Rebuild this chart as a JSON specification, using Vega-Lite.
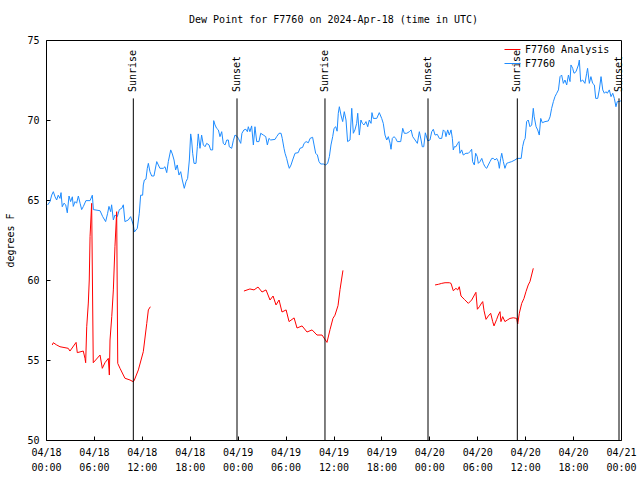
{
  "$schema": "https://vega.github.io/schema/vega-lite/v6.json",
  "width": 575,
  "height": 400,
  "autosize": "none",
  "padding": {"left": 46, "top": 40, "right": 19, "bottom": 40},
  "background": "white",
  "title": {"text": "Dew Point for F7760 on 2024-Apr-18 (time in UTC)", "font": "DejaVu Sans Mono", "fontSize": 10, "fontWeight": "normal", "color": "black", "anchor": "middle", "offset": 10},
  "config": {
    "view": {"stroke": "black", "strokeWidth": 1},
    "font": "DejaVu Sans Mono",
    "axis": {"labelFont": "DejaVu Sans Mono", "labelFontSize": 10, "labelColor": "black", "titleFont": "DejaVu Sans Mono", "titleFontSize": 10, "titleFontWeight": "normal", "titleColor": "black", "tickColor": "black", "grid": false, "domain": false}
  },
  "datasets": {
    "obs": [
      {"series":"F7760","seg":0,"t":"2024-04-18T00:12:00Z","v":64.69},
      {"series":"F7760","seg":0,"t":"2024-04-18T00:30:00Z","v":64.9},
      {"series":"F7760","seg":0,"t":"2024-04-18T00:43:00Z","v":65.31},
      {"series":"F7760","seg":0,"t":"2024-04-18T00:55:00Z","v":65.52},
      {"series":"F7760","seg":0,"t":"2024-04-18T01:08:00Z","v":65.2},
      {"series":"F7760","seg":0,"t":"2024-04-18T01:20:00Z","v":65.0},
      {"series":"F7760","seg":0,"t":"2024-04-18T01:32:00Z","v":65.3},
      {"series":"F7760","seg":0,"t":"2024-04-18T01:45:00Z","v":65.1},
      {"series":"F7760","seg":0,"t":"2024-04-18T01:53:00Z","v":65.46},
      {"series":"F7760","seg":0,"t":"2024-04-18T02:02:00Z","v":64.58},
      {"series":"F7760","seg":0,"t":"2024-04-18T02:15:00Z","v":64.8},
      {"series":"F7760","seg":0,"t":"2024-04-18T02:28:00Z","v":64.7},
      {"series":"F7760","seg":0,"t":"2024-04-18T02:40:00Z","v":64.2},
      {"series":"F7760","seg":0,"t":"2024-04-18T02:53:00Z","v":65.25},
      {"series":"F7760","seg":0,"t":"2024-04-18T03:05:00Z","v":64.9},
      {"series":"F7760","seg":0,"t":"2024-04-18T03:18:00Z","v":65.2},
      {"series":"F7760","seg":0,"t":"2024-04-18T03:25:00Z","v":64.6},
      {"series":"F7760","seg":0,"t":"2024-04-18T03:38:00Z","v":64.9},
      {"series":"F7760","seg":0,"t":"2024-04-18T03:50:00Z","v":64.8},
      {"series":"F7760","seg":0,"t":"2024-04-18T04:03:00Z","v":65.25},
      {"series":"F7760","seg":0,"t":"2024-04-18T04:16:00Z","v":64.8},
      {"series":"F7760","seg":0,"t":"2024-04-18T04:28:00Z","v":64.4},
      {"series":"F7760","seg":0,"t":"2024-04-18T04:41:00Z","v":64.6},
      {"series":"F7760","seg":0,"t":"2024-04-18T05:00:00Z","v":64.96},
      {"series":"F7760","seg":0,"t":"2024-04-18T05:31:00Z","v":64.96},
      {"series":"F7760","seg":0,"t":"2024-04-18T05:48:00Z","v":65.3},
      {"series":"F7760","seg":0,"t":"2024-04-18T05:56:00Z","v":64.4},
      {"series":"F7760","seg":0,"t":"2024-04-18T06:46:00Z","v":64.33},
      {"series":"F7760","seg":0,"t":"2024-04-18T07:06:00Z","v":63.96},
      {"series":"F7760","seg":0,"t":"2024-04-18T07:28:00Z","v":63.65},
      {"series":"F7760","seg":0,"t":"2024-04-18T07:43:00Z","v":64.17},
      {"series":"F7760","seg":0,"t":"2024-04-18T07:53:00Z","v":64.6},
      {"series":"F7760","seg":0,"t":"2024-04-18T08:06:00Z","v":64.27},
      {"series":"F7760","seg":0,"t":"2024-04-18T08:13:00Z","v":64.7},
      {"series":"F7760","seg":0,"t":"2024-04-18T08:26:00Z","v":63.75},
      {"series":"F7760","seg":0,"t":"2024-04-18T08:38:00Z","v":64.06},
      {"series":"F7760","seg":0,"t":"2024-04-18T08:56:00Z","v":63.96},
      {"series":"F7760","seg":0,"t":"2024-04-18T09:11:00Z","v":64.4},
      {"series":"F7760","seg":0,"t":"2024-04-18T09:29:00Z","v":64.48},
      {"series":"F7760","seg":0,"t":"2024-04-18T09:41:00Z","v":64.7},
      {"series":"F7760","seg":0,"t":"2024-04-18T09:53:00Z","v":63.65},
      {"series":"F7760","seg":0,"t":"2024-04-18T10:18:00Z","v":63.75},
      {"series":"F7760","seg":0,"t":"2024-04-18T10:36:00Z","v":63.96},
      {"series":"F7760","seg":0,"t":"2024-04-18T10:56:00Z","v":63.44},
      {"series":"F7760","seg":0,"t":"2024-04-18T11:04:00Z","v":63.0},
      {"series":"F7760","seg":0,"t":"2024-04-18T11:26:00Z","v":63.23},
      {"series":"F7760","seg":0,"t":"2024-04-18T11:41:00Z","v":64.17},
      {"series":"F7760","seg":0,"t":"2024-04-18T11:51:00Z","v":65.3},
      {"series":"F7760","seg":0,"t":"2024-04-18T12:06:00Z","v":65.3},
      {"series":"F7760","seg":0,"t":"2024-04-18T12:11:00Z","v":65.94},
      {"series":"F7760","seg":0,"t":"2024-04-18T12:19:00Z","v":66.25},
      {"series":"F7760","seg":0,"t":"2024-04-18T12:31:00Z","v":66.3},
      {"series":"F7760","seg":0,"t":"2024-04-18T12:41:00Z","v":66.98},
      {"series":"F7760","seg":0,"t":"2024-04-18T12:49:00Z","v":67.29},
      {"series":"F7760","seg":0,"t":"2024-04-18T13:01:00Z","v":66.77},
      {"series":"F7760","seg":0,"t":"2024-04-18T13:14:00Z","v":66.5},
      {"series":"F7760","seg":0,"t":"2024-04-18T13:31:00Z","v":66.5},
      {"series":"F7760","seg":0,"t":"2024-04-18T13:52:00Z","v":67.4},
      {"series":"F7760","seg":0,"t":"2024-04-18T14:04:00Z","v":67.19},
      {"series":"F7760","seg":0,"t":"2024-04-18T14:16:00Z","v":66.98},
      {"series":"F7760","seg":0,"t":"2024-04-18T14:41:00Z","v":66.98},
      {"series":"F7760","seg":0,"t":"2024-04-18T14:54:00Z","v":67.08},
      {"series":"F7760","seg":0,"t":"2024-04-18T15:07:00Z","v":66.71},
      {"series":"F7760","seg":0,"t":"2024-04-18T15:19:00Z","v":67.4},
      {"series":"F7760","seg":0,"t":"2024-04-18T15:37:00Z","v":68.13},
      {"series":"F7760","seg":0,"t":"2024-04-18T15:49:00Z","v":67.88},
      {"series":"F7760","seg":0,"t":"2024-04-18T16:02:00Z","v":67.5},
      {"series":"F7760","seg":0,"t":"2024-04-18T16:14:00Z","v":66.88},
      {"series":"F7760","seg":0,"t":"2024-04-18T16:26:00Z","v":67.19},
      {"series":"F7760","seg":0,"t":"2024-04-18T16:39:00Z","v":66.56},
      {"series":"F7760","seg":0,"t":"2024-04-18T16:52:00Z","v":66.77},
      {"series":"F7760","seg":0,"t":"2024-04-18T17:04:00Z","v":66.25},
      {"series":"F7760","seg":0,"t":"2024-04-18T17:19:00Z","v":65.73},
      {"series":"F7760","seg":0,"t":"2024-04-18T17:32:00Z","v":66.15},
      {"series":"F7760","seg":0,"t":"2024-04-18T17:44:00Z","v":66.35},
      {"series":"F7760","seg":0,"t":"2024-04-18T17:57:00Z","v":67.5},
      {"series":"F7760","seg":0,"t":"2024-04-18T18:07:00Z","v":69.13},
      {"series":"F7760","seg":0,"t":"2024-04-18T18:14:00Z","v":68.75},
      {"series":"F7760","seg":0,"t":"2024-04-18T18:22:00Z","v":67.92},
      {"series":"F7760","seg":0,"t":"2024-04-18T18:32:00Z","v":67.29},
      {"series":"F7760","seg":0,"t":"2024-04-18T18:47:00Z","v":67.29},
      {"series":"F7760","seg":0,"t":"2024-04-18T18:57:00Z","v":68.33},
      {"series":"F7760","seg":0,"t":"2024-04-18T19:04:00Z","v":69.13},
      {"series":"F7760","seg":0,"t":"2024-04-18T19:17:00Z","v":68.23},
      {"series":"F7760","seg":0,"t":"2024-04-18T19:29:00Z","v":69.06},
      {"series":"F7760","seg":0,"t":"2024-04-18T19:42:00Z","v":68.44},
      {"series":"F7760","seg":0,"t":"2024-04-18T19:55:00Z","v":68.33},
      {"series":"F7760","seg":0,"t":"2024-04-18T20:07:00Z","v":68.54},
      {"series":"F7760","seg":0,"t":"2024-04-18T20:25:00Z","v":68.44},
      {"series":"F7760","seg":0,"t":"2024-04-18T20:37:00Z","v":68.13},
      {"series":"F7760","seg":0,"t":"2024-04-18T20:52:00Z","v":68.13},
      {"series":"F7760","seg":0,"t":"2024-04-18T21:00:00Z","v":69.96},
      {"series":"F7760","seg":0,"t":"2024-04-18T21:10:00Z","v":69.69},
      {"series":"F7760","seg":0,"t":"2024-04-18T21:22:00Z","v":69.48},
      {"series":"F7760","seg":0,"t":"2024-04-18T21:35:00Z","v":69.38},
      {"series":"F7760","seg":0,"t":"2024-04-18T21:47:00Z","v":68.96},
      {"series":"F7760","seg":0,"t":"2024-04-18T22:00:00Z","v":69.27},
      {"series":"F7760","seg":0,"t":"2024-04-18T22:12:00Z","v":68.54},
      {"series":"F7760","seg":0,"t":"2024-04-18T22:25:00Z","v":68.44},
      {"series":"F7760","seg":0,"t":"2024-04-18T22:38:00Z","v":68.75},
      {"series":"F7760","seg":0,"t":"2024-04-18T22:50:00Z","v":68.75},
      {"series":"F7760","seg":0,"t":"2024-04-18T22:57:00Z","v":68.33},
      {"series":"F7760","seg":0,"t":"2024-04-18T23:15:00Z","v":68.23},
      {"series":"F7760","seg":0,"t":"2024-04-18T23:27:00Z","v":68.7},
      {"series":"F7760","seg":0,"t":"2024-04-18T23:40:00Z","v":69.06},
      {"series":"F7760","seg":0,"t":"2024-04-18T23:57:00Z","v":68.96},
      {"series":"F7760","seg":0,"t":"2024-04-19T00:05:00Z","v":68.85},
      {"series":"F7760","seg":0,"t":"2024-04-19T00:23:00Z","v":68.54},
      {"series":"F7760","seg":0,"t":"2024-04-19T00:32:00Z","v":69.17},
      {"series":"F7760","seg":0,"t":"2024-04-19T00:47:00Z","v":69.38},
      {"series":"F7760","seg":0,"t":"2024-04-19T01:02:00Z","v":69.42},
      {"series":"F7760","seg":0,"t":"2024-04-19T01:13:00Z","v":69.27},
      {"series":"F7760","seg":0,"t":"2024-04-19T01:20:00Z","v":69.58},
      {"series":"F7760","seg":0,"t":"2024-04-19T01:32:00Z","v":69.27},
      {"series":"F7760","seg":0,"t":"2024-04-19T01:45:00Z","v":69.63},
      {"series":"F7760","seg":0,"t":"2024-04-19T01:58:00Z","v":68.44},
      {"series":"F7760","seg":0,"t":"2024-04-19T02:10:00Z","v":69.58},
      {"series":"F7760","seg":0,"t":"2024-04-19T02:23:00Z","v":68.65},
      {"series":"F7760","seg":0,"t":"2024-04-19T02:40:00Z","v":68.65},
      {"series":"F7760","seg":0,"t":"2024-04-19T02:53:00Z","v":69.17},
      {"series":"F7760","seg":0,"t":"2024-04-19T03:13:00Z","v":69.06},
      {"series":"F7760","seg":0,"t":"2024-04-19T03:31:00Z","v":68.96},
      {"series":"F7760","seg":0,"t":"2024-04-19T03:43:00Z","v":68.44},
      {"series":"F7760","seg":0,"t":"2024-04-19T03:55:00Z","v":68.85},
      {"series":"F7760","seg":0,"t":"2024-04-19T04:08:00Z","v":68.75},
      {"series":"F7760","seg":0,"t":"2024-04-19T04:41:00Z","v":68.79},
      {"series":"F7760","seg":0,"t":"2024-04-19T04:53:00Z","v":68.96},
      {"series":"F7760","seg":0,"t":"2024-04-19T05:11:00Z","v":69.17},
      {"series":"F7760","seg":0,"t":"2024-04-19T05:26:00Z","v":69.17},
      {"series":"F7760","seg":0,"t":"2024-04-19T05:35:00Z","v":68.85},
      {"series":"F7760","seg":0,"t":"2024-04-19T05:48:00Z","v":68.23},
      {"series":"F7760","seg":0,"t":"2024-04-19T05:56:00Z","v":67.92},
      {"series":"F7760","seg":0,"t":"2024-04-19T06:08:00Z","v":67.6},
      {"series":"F7760","seg":0,"t":"2024-04-19T06:20:00Z","v":67.19},
      {"series":"F7760","seg":0,"t":"2024-04-19T06:28:00Z","v":66.98},
      {"series":"F7760","seg":0,"t":"2024-04-19T06:41:00Z","v":67.19},
      {"series":"F7760","seg":0,"t":"2024-04-19T06:53:00Z","v":67.5},
      {"series":"F7760","seg":0,"t":"2024-04-19T07:11:00Z","v":67.92},
      {"series":"F7760","seg":0,"t":"2024-04-19T07:35:00Z","v":67.96},
      {"series":"F7760","seg":0,"t":"2024-04-19T07:48:00Z","v":68.23},
      {"series":"F7760","seg":0,"t":"2024-04-19T08:08:00Z","v":68.29},
      {"series":"F7760","seg":0,"t":"2024-04-19T08:19:00Z","v":68.54},
      {"series":"F7760","seg":0,"t":"2024-04-19T08:34:00Z","v":68.65},
      {"series":"F7760","seg":0,"t":"2024-04-19T08:51:00Z","v":68.58},
      {"series":"F7760","seg":0,"t":"2024-04-19T09:04:00Z","v":68.85},
      {"series":"F7760","seg":0,"t":"2024-04-19T09:23:00Z","v":68.92},
      {"series":"F7760","seg":0,"t":"2024-04-19T09:34:00Z","v":68.44},
      {"series":"F7760","seg":0,"t":"2024-04-19T09:46:00Z","v":67.92},
      {"series":"F7760","seg":0,"t":"2024-04-19T09:59:00Z","v":67.81},
      {"series":"F7760","seg":0,"t":"2024-04-19T10:11:00Z","v":67.4},
      {"series":"F7760","seg":0,"t":"2024-04-19T10:24:00Z","v":67.25},
      {"series":"F7760","seg":0,"t":"2024-04-19T10:44:00Z","v":67.25},
      {"series":"F7760","seg":0,"t":"2024-04-19T11:01:00Z","v":67.19},
      {"series":"F7760","seg":0,"t":"2024-04-19T11:16:00Z","v":67.29},
      {"series":"F7760","seg":0,"t":"2024-04-19T11:29:00Z","v":67.71},
      {"series":"F7760","seg":0,"t":"2024-04-19T11:41:00Z","v":68.44},
      {"series":"F7760","seg":0,"t":"2024-04-19T11:54:00Z","v":68.96},
      {"series":"F7760","seg":0,"t":"2024-04-19T12:04:00Z","v":69.48},
      {"series":"F7760","seg":0,"t":"2024-04-19T12:17:00Z","v":69.58},
      {"series":"F7760","seg":0,"t":"2024-04-19T12:27:00Z","v":69.3},
      {"series":"F7760","seg":0,"t":"2024-04-19T12:36:00Z","v":70.42},
      {"series":"F7760","seg":0,"t":"2024-04-19T12:44:00Z","v":70.83},
      {"series":"F7760","seg":0,"t":"2024-04-19T12:56:00Z","v":70.31},
      {"series":"F7760","seg":0,"t":"2024-04-19T13:09:00Z","v":69.9},
      {"series":"F7760","seg":0,"t":"2024-04-19T13:21:00Z","v":70.52},
      {"series":"F7760","seg":0,"t":"2024-04-19T13:34:00Z","v":70.0},
      {"series":"F7760","seg":0,"t":"2024-04-19T13:46:00Z","v":68.65},
      {"series":"F7760","seg":0,"t":"2024-04-19T14:04:00Z","v":68.75},
      {"series":"F7760","seg":0,"t":"2024-04-19T14:17:00Z","v":70.73},
      {"series":"F7760","seg":0,"t":"2024-04-19T14:29:00Z","v":69.17},
      {"series":"F7760","seg":0,"t":"2024-04-19T14:41:00Z","v":69.38},
      {"series":"F7760","seg":0,"t":"2024-04-19T14:54:00Z","v":69.79},
      {"series":"F7760","seg":0,"t":"2024-04-19T15:02:00Z","v":70.42},
      {"series":"F7760","seg":0,"t":"2024-04-19T15:14:00Z","v":69.06},
      {"series":"F7760","seg":0,"t":"2024-04-19T15:26:00Z","v":70.0},
      {"series":"F7760","seg":0,"t":"2024-04-19T15:37:00Z","v":69.79},
      {"series":"F7760","seg":0,"t":"2024-04-19T15:49:00Z","v":69.69},
      {"series":"F7760","seg":0,"t":"2024-04-19T16:04:00Z","v":69.9},
      {"series":"F7760","seg":0,"t":"2024-04-19T16:17:00Z","v":69.58},
      {"series":"F7760","seg":0,"t":"2024-04-19T16:29:00Z","v":70.0},
      {"series":"F7760","seg":0,"t":"2024-04-19T16:42:00Z","v":69.79},
      {"series":"F7760","seg":0,"t":"2024-04-19T16:49:00Z","v":70.46},
      {"series":"F7760","seg":0,"t":"2024-04-19T16:59:00Z","v":70.1},
      {"series":"F7760","seg":0,"t":"2024-04-19T17:25:00Z","v":70.1},
      {"series":"F7760","seg":0,"t":"2024-04-19T17:44:00Z","v":70.46},
      {"series":"F7760","seg":0,"t":"2024-04-19T18:02:00Z","v":70.1},
      {"series":"F7760","seg":0,"t":"2024-04-19T18:14:00Z","v":69.79},
      {"series":"F7760","seg":0,"t":"2024-04-19T18:27:00Z","v":69.06},
      {"series":"F7760","seg":0,"t":"2024-04-19T18:40:00Z","v":68.75},
      {"series":"F7760","seg":0,"t":"2024-04-19T18:52:00Z","v":68.96},
      {"series":"F7760","seg":0,"t":"2024-04-19T19:05:00Z","v":68.54},
      {"series":"F7760","seg":0,"t":"2024-04-19T19:12:00Z","v":68.17},
      {"series":"F7760","seg":0,"t":"2024-04-19T19:22:00Z","v":68.85},
      {"series":"F7760","seg":0,"t":"2024-04-19T19:35:00Z","v":68.96},
      {"series":"F7760","seg":0,"t":"2024-04-19T19:47:00Z","v":68.85},
      {"series":"F7760","seg":0,"t":"2024-04-19T19:59:00Z","v":68.65},
      {"series":"F7760","seg":0,"t":"2024-04-19T20:25:00Z","v":68.65},
      {"series":"F7760","seg":0,"t":"2024-04-19T20:40:00Z","v":69.48},
      {"series":"F7760","seg":0,"t":"2024-04-19T20:52:00Z","v":69.17},
      {"series":"F7760","seg":0,"t":"2024-04-19T21:10:00Z","v":69.17},
      {"series":"F7760","seg":0,"t":"2024-04-19T21:30:00Z","v":69.27},
      {"series":"F7760","seg":0,"t":"2024-04-19T21:43:00Z","v":69.38},
      {"series":"F7760","seg":0,"t":"2024-04-19T21:55:00Z","v":68.96},
      {"series":"F7760","seg":0,"t":"2024-04-19T22:13:00Z","v":68.75},
      {"series":"F7760","seg":0,"t":"2024-04-19T22:30:00Z","v":68.54},
      {"series":"F7760","seg":0,"t":"2024-04-19T22:45:00Z","v":69.27},
      {"series":"F7760","seg":0,"t":"2024-04-19T22:58:00Z","v":68.75},
      {"series":"F7760","seg":0,"t":"2024-04-19T23:07:00Z","v":68.33},
      {"series":"F7760","seg":0,"t":"2024-04-19T23:18:00Z","v":68.33},
      {"series":"F7760","seg":0,"t":"2024-04-19T23:30:00Z","v":69.2},
      {"series":"F7760","seg":0,"t":"2024-04-19T23:48:00Z","v":68.7},
      {"series":"F7760","seg":0,"t":"2024-04-20T00:05:00Z","v":68.75},
      {"series":"F7760","seg":0,"t":"2024-04-20T00:18:00Z","v":69.27},
      {"series":"F7760","seg":0,"t":"2024-04-20T00:30:00Z","v":69.42},
      {"series":"F7760","seg":0,"t":"2024-04-20T00:43:00Z","v":69.06},
      {"series":"F7760","seg":0,"t":"2024-04-20T01:00:00Z","v":69.1},
      {"series":"F7760","seg":0,"t":"2024-04-20T01:15:00Z","v":68.85},
      {"series":"F7760","seg":0,"t":"2024-04-20T01:33:00Z","v":68.85},
      {"series":"F7760","seg":0,"t":"2024-04-20T01:45:00Z","v":69.38},
      {"series":"F7760","seg":0,"t":"2024-04-20T01:58:00Z","v":69.27},
      {"series":"F7760","seg":0,"t":"2024-04-20T02:05:00Z","v":68.96},
      {"series":"F7760","seg":0,"t":"2024-04-20T02:18:00Z","v":69.38},
      {"series":"F7760","seg":0,"t":"2024-04-20T02:30:00Z","v":69.06},
      {"series":"F7760","seg":0,"t":"2024-04-20T02:43:00Z","v":69.38},
      {"series":"F7760","seg":0,"t":"2024-04-20T02:53:00Z","v":68.85},
      {"series":"F7760","seg":0,"t":"2024-04-20T03:00:00Z","v":68.13},
      {"series":"F7760","seg":0,"t":"2024-04-20T03:08:00Z","v":68.33},
      {"series":"F7760","seg":0,"t":"2024-04-20T03:20:00Z","v":68.33},
      {"series":"F7760","seg":0,"t":"2024-04-20T03:33:00Z","v":68.54},
      {"series":"F7760","seg":0,"t":"2024-04-20T03:43:00Z","v":68.65},
      {"series":"F7760","seg":0,"t":"2024-04-20T03:50:00Z","v":67.92},
      {"series":"F7760","seg":0,"t":"2024-04-20T04:03:00Z","v":68.13},
      {"series":"F7760","seg":0,"t":"2024-04-20T04:15:00Z","v":67.81},
      {"series":"F7760","seg":0,"t":"2024-04-20T04:35:00Z","v":67.92},
      {"series":"F7760","seg":0,"t":"2024-04-20T04:53:00Z","v":67.92},
      {"series":"F7760","seg":0,"t":"2024-04-20T05:05:00Z","v":68.02},
      {"series":"F7760","seg":0,"t":"2024-04-20T05:18:00Z","v":68.17},
      {"series":"F7760","seg":0,"t":"2024-04-20T05:25:00Z","v":67.4},
      {"series":"F7760","seg":0,"t":"2024-04-20T05:38:00Z","v":67.19},
      {"series":"F7760","seg":0,"t":"2024-04-20T05:48:00Z","v":67.92},
      {"series":"F7760","seg":0,"t":"2024-04-20T06:00:00Z","v":67.71},
      {"series":"F7760","seg":0,"t":"2024-04-20T06:08:00Z","v":67.29},
      {"series":"F7760","seg":0,"t":"2024-04-20T06:21:00Z","v":67.4},
      {"series":"F7760","seg":0,"t":"2024-04-20T06:34:00Z","v":67.6},
      {"series":"F7760","seg":0,"t":"2024-04-20T06:46:00Z","v":67.29},
      {"series":"F7760","seg":0,"t":"2024-04-20T06:58:00Z","v":67.08},
      {"series":"F7760","seg":0,"t":"2024-04-20T07:11:00Z","v":66.98},
      {"series":"F7760","seg":0,"t":"2024-04-20T07:23:00Z","v":67.19},
      {"series":"F7760","seg":0,"t":"2024-04-20T07:36:00Z","v":67.4},
      {"series":"F7760","seg":0,"t":"2024-04-20T07:49:00Z","v":67.6},
      {"series":"F7760","seg":0,"t":"2024-04-20T08:01:00Z","v":67.6},
      {"series":"F7760","seg":0,"t":"2024-04-20T08:13:00Z","v":67.5},
      {"series":"F7760","seg":0,"t":"2024-04-20T08:26:00Z","v":67.6},
      {"series":"F7760","seg":0,"t":"2024-04-20T08:38:00Z","v":67.4},
      {"series":"F7760","seg":0,"t":"2024-04-20T08:46:00Z","v":66.98},
      {"series":"F7760","seg":0,"t":"2024-04-20T08:56:00Z","v":67.6},
      {"series":"F7760","seg":0,"t":"2024-04-20T09:04:00Z","v":67.92},
      {"series":"F7760","seg":0,"t":"2024-04-20T09:16:00Z","v":67.4},
      {"series":"F7760","seg":0,"t":"2024-04-20T09:28:00Z","v":66.98},
      {"series":"F7760","seg":0,"t":"2024-04-20T09:41:00Z","v":67.29},
      {"series":"F7760","seg":0,"t":"2024-04-20T09:53:00Z","v":67.33},
      {"series":"F7760","seg":0,"t":"2024-04-20T10:19:00Z","v":67.4},
      {"series":"F7760","seg":0,"t":"2024-04-20T10:43:00Z","v":67.5},
      {"series":"F7760","seg":0,"t":"2024-04-20T11:01:00Z","v":67.6},
      {"series":"F7760","seg":0,"t":"2024-04-20T11:30:00Z","v":67.6},
      {"series":"F7760","seg":0,"t":"2024-04-20T11:41:00Z","v":68.33},
      {"series":"F7760","seg":0,"t":"2024-04-20T11:51:00Z","v":68.7},
      {"series":"F7760","seg":0,"t":"2024-04-20T12:00:00Z","v":68.85},
      {"series":"F7760","seg":0,"t":"2024-04-20T12:11:00Z","v":69.9},
      {"series":"F7760","seg":0,"t":"2024-04-20T12:23:00Z","v":70.0},
      {"series":"F7760","seg":0,"t":"2024-04-20T12:36:00Z","v":69.58},
      {"series":"F7760","seg":0,"t":"2024-04-20T12:49:00Z","v":69.69},
      {"series":"F7760","seg":0,"t":"2024-04-20T13:01:00Z","v":70.73},
      {"series":"F7760","seg":0,"t":"2024-04-20T13:08:00Z","v":70.2},
      {"series":"F7760","seg":0,"t":"2024-04-20T13:22:00Z","v":69.58},
      {"series":"F7760","seg":0,"t":"2024-04-20T13:34:00Z","v":69.38},
      {"series":"F7760","seg":0,"t":"2024-04-20T13:46:00Z","v":69.06},
      {"series":"F7760","seg":0,"t":"2024-04-20T13:57:00Z","v":70.1},
      {"series":"F7760","seg":0,"t":"2024-04-20T14:09:00Z","v":69.83},
      {"series":"F7760","seg":0,"t":"2024-04-20T14:29:00Z","v":69.9},
      {"series":"F7760","seg":0,"t":"2024-04-20T14:54:00Z","v":69.94},
      {"series":"F7760","seg":0,"t":"2024-04-20T15:07:00Z","v":70.2},
      {"series":"F7760","seg":0,"t":"2024-04-20T15:19:00Z","v":70.73},
      {"series":"F7760","seg":0,"t":"2024-04-20T15:32:00Z","v":71.15},
      {"series":"F7760","seg":0,"t":"2024-04-20T15:44:00Z","v":71.46},
      {"series":"F7760","seg":0,"t":"2024-04-20T15:57:00Z","v":71.67},
      {"series":"F7760","seg":0,"t":"2024-04-20T16:10:00Z","v":71.88},
      {"series":"F7760","seg":0,"t":"2024-04-20T16:22:00Z","v":72.71},
      {"series":"F7760","seg":0,"t":"2024-04-20T16:34:00Z","v":72.81},
      {"series":"F7760","seg":0,"t":"2024-04-20T16:47:00Z","v":72.29},
      {"series":"F7760","seg":0,"t":"2024-04-20T16:59:00Z","v":72.5},
      {"series":"F7760","seg":0,"t":"2024-04-20T17:12:00Z","v":72.19},
      {"series":"F7760","seg":0,"t":"2024-04-20T17:25:00Z","v":72.81},
      {"series":"F7760","seg":0,"t":"2024-04-20T17:37:00Z","v":72.4},
      {"series":"F7760","seg":0,"t":"2024-04-20T17:44:00Z","v":73.44},
      {"series":"F7760","seg":0,"t":"2024-04-20T17:57:00Z","v":73.23},
      {"series":"F7760","seg":0,"t":"2024-04-20T18:07:00Z","v":72.92},
      {"series":"F7760","seg":0,"t":"2024-04-20T18:22:00Z","v":73.02},
      {"series":"F7760","seg":0,"t":"2024-04-20T18:40:00Z","v":73.44},
      {"series":"F7760","seg":0,"t":"2024-04-20T18:47:00Z","v":73.75},
      {"series":"F7760","seg":0,"t":"2024-04-20T18:57:00Z","v":72.4},
      {"series":"F7760","seg":0,"t":"2024-04-20T19:12:00Z","v":72.5},
      {"series":"F7760","seg":0,"t":"2024-04-20T19:29:00Z","v":72.29},
      {"series":"F7760","seg":0,"t":"2024-04-20T19:42:00Z","v":72.92},
      {"series":"F7760","seg":0,"t":"2024-04-20T19:49:00Z","v":73.23},
      {"series":"F7760","seg":0,"t":"2024-04-20T20:02:00Z","v":72.29},
      {"series":"F7760","seg":0,"t":"2024-04-20T20:14:00Z","v":72.71},
      {"series":"F7760","seg":0,"t":"2024-04-20T20:27:00Z","v":72.29},
      {"series":"F7760","seg":0,"t":"2024-04-20T20:40:00Z","v":72.19},
      {"series":"F7760","seg":0,"t":"2024-04-20T20:50:00Z","v":71.35},
      {"series":"F7760","seg":0,"t":"2024-04-20T21:05:00Z","v":71.35},
      {"series":"F7760","seg":0,"t":"2024-04-20T21:17:00Z","v":71.88},
      {"series":"F7760","seg":0,"t":"2024-04-20T21:30:00Z","v":72.71},
      {"series":"F7760","seg":0,"t":"2024-04-20T21:43:00Z","v":71.88},
      {"series":"F7760","seg":0,"t":"2024-04-20T21:55:00Z","v":71.67},
      {"series":"F7760","seg":0,"t":"2024-04-20T22:07:00Z","v":71.77},
      {"series":"F7760","seg":0,"t":"2024-04-20T22:17:00Z","v":71.67},
      {"series":"F7760","seg":0,"t":"2024-04-20T22:32:00Z","v":71.88},
      {"series":"F7760","seg":0,"t":"2024-04-20T22:45:00Z","v":71.46},
      {"series":"F7760","seg":0,"t":"2024-04-20T22:58:00Z","v":71.67},
      {"series":"F7760","seg":0,"t":"2024-04-20T23:10:00Z","v":71.35},
      {"series":"F7760","seg":0,"t":"2024-04-20T23:22:00Z","v":70.83},
      {"series":"F7760","seg":0,"t":"2024-04-20T23:32:00Z","v":71.15},
      {"series":"F7760","seg":0,"t":"2024-04-20T23:47:00Z","v":71.15},
      {"series":"F7760","seg":0,"t":"2024-04-20T23:59:00Z","v":71.2},
      {"series":"F7760 Analysis","seg":1,"t":"2024-04-18T00:47:00Z","v":55.94},
      {"series":"F7760 Analysis","seg":1,"t":"2024-04-18T00:55:00Z","v":56.08},
      {"series":"F7760 Analysis","seg":1,"t":"2024-04-18T01:20:00Z","v":55.94},
      {"series":"F7760 Analysis","seg":1,"t":"2024-04-18T01:45:00Z","v":55.83},
      {"series":"F7760 Analysis","seg":1,"t":"2024-04-18T02:47:00Z","v":55.73},
      {"series":"F7760 Analysis","seg":1,"t":"2024-04-18T03:00:00Z","v":55.56},
      {"series":"F7760 Analysis","seg":1,"t":"2024-04-18T03:46:00Z","v":56.1},
      {"series":"F7760 Analysis","seg":1,"t":"2024-04-18T03:55:00Z","v":55.46},
      {"series":"F7760 Analysis","seg":1,"t":"2024-04-18T04:40:00Z","v":55.56},
      {"series":"F7760 Analysis","seg":1,"t":"2024-04-18T04:53:00Z","v":55.1},
      {"series":"F7760 Analysis","seg":1,"t":"2024-04-18T04:58:00Z","v":54.83},
      {"series":"F7760 Analysis","seg":1,"t":"2024-04-18T05:06:00Z","v":57.08},
      {"series":"F7760 Analysis","seg":1,"t":"2024-04-18T05:18:00Z","v":58.56},
      {"series":"F7760 Analysis","seg":1,"t":"2024-04-18T05:25:00Z","v":60.0},
      {"series":"F7760 Analysis","seg":1,"t":"2024-04-18T05:31:00Z","v":62.71},
      {"series":"F7760 Analysis","seg":1,"t":"2024-04-18T05:43:00Z","v":64.79},
      {"series":"F7760 Analysis","seg":1,"t":"2024-04-18T05:55:00Z","v":54.83},
      {"series":"F7760 Analysis","seg":1,"t":"2024-04-18T06:46:00Z","v":55.31},
      {"series":"F7760 Analysis","seg":1,"t":"2024-04-18T07:03:00Z","v":54.48},
      {"series":"F7760 Analysis","seg":1,"t":"2024-04-18T07:23:00Z","v":54.83},
      {"series":"F7760 Analysis","seg":1,"t":"2024-04-18T07:48:00Z","v":55.1},
      {"series":"F7760 Analysis","seg":1,"t":"2024-04-18T07:56:00Z","v":54.06},
      {"series":"F7760 Analysis","seg":1,"t":"2024-04-18T08:01:00Z","v":56.25},
      {"series":"F7760 Analysis","seg":1,"t":"2024-04-18T08:14:00Z","v":57.71},
      {"series":"F7760 Analysis","seg":1,"t":"2024-04-18T08:26:00Z","v":59.38},
      {"series":"F7760 Analysis","seg":1,"t":"2024-04-18T08:38:00Z","v":62.08},
      {"series":"F7760 Analysis","seg":1,"t":"2024-04-18T08:51:00Z","v":64.27},
      {"series":"F7760 Analysis","seg":1,"t":"2024-04-18T08:59:00Z","v":54.79},
      {"series":"F7760 Analysis","seg":1,"t":"2024-04-18T09:16:00Z","v":54.48},
      {"series":"F7760 Analysis","seg":1,"t":"2024-04-18T09:53:00Z","v":53.86},
      {"series":"F7760 Analysis","seg":1,"t":"2024-04-18T10:31:00Z","v":53.75},
      {"series":"F7760 Analysis","seg":1,"t":"2024-04-18T10:56:00Z","v":53.64},
      {"series":"F7760 Analysis","seg":1,"t":"2024-04-18T11:04:00Z","v":53.75},
      {"series":"F7760 Analysis","seg":1,"t":"2024-04-18T11:34:00Z","v":54.38},
      {"series":"F7760 Analysis","seg":1,"t":"2024-04-18T12:11:00Z","v":55.52},
      {"series":"F7760 Analysis","seg":1,"t":"2024-04-18T12:37:00Z","v":57.29},
      {"series":"F7760 Analysis","seg":1,"t":"2024-04-18T12:49:00Z","v":58.13},
      {"series":"F7760 Analysis","seg":1,"t":"2024-04-18T13:04:00Z","v":58.33},
      {"series":"F7760 Analysis","seg":2,"t":"2024-04-19T00:47:00Z","v":59.31},
      {"series":"F7760 Analysis","seg":2,"t":"2024-04-19T01:32:00Z","v":59.44},
      {"series":"F7760 Analysis","seg":2,"t":"2024-04-19T02:03:00Z","v":59.38},
      {"series":"F7760 Analysis","seg":2,"t":"2024-04-19T02:33:00Z","v":59.56},
      {"series":"F7760 Analysis","seg":2,"t":"2024-04-19T03:03:00Z","v":59.25},
      {"series":"F7760 Analysis","seg":2,"t":"2024-04-19T03:33:00Z","v":59.38},
      {"series":"F7760 Analysis","seg":2,"t":"2024-04-19T04:03:00Z","v":58.75},
      {"series":"F7760 Analysis","seg":2,"t":"2024-04-19T04:26:00Z","v":59.0},
      {"series":"F7760 Analysis","seg":2,"t":"2024-04-19T04:48:00Z","v":58.44},
      {"series":"F7760 Analysis","seg":2,"t":"2024-04-19T05:11:00Z","v":58.75},
      {"series":"F7760 Analysis","seg":2,"t":"2024-04-19T05:33:00Z","v":58.0},
      {"series":"F7760 Analysis","seg":2,"t":"2024-04-19T06:04:00Z","v":58.13},
      {"series":"F7760 Analysis","seg":2,"t":"2024-04-19T06:26:00Z","v":57.4},
      {"series":"F7760 Analysis","seg":2,"t":"2024-04-19T07:04:00Z","v":57.63},
      {"series":"F7760 Analysis","seg":2,"t":"2024-04-19T07:26:00Z","v":57.0},
      {"series":"F7760 Analysis","seg":2,"t":"2024-04-19T08:04:00Z","v":57.13},
      {"series":"F7760 Analysis","seg":2,"t":"2024-04-19T08:41:00Z","v":56.75},
      {"series":"F7760 Analysis","seg":2,"t":"2024-04-19T09:19:00Z","v":56.88},
      {"series":"F7760 Analysis","seg":2,"t":"2024-04-19T09:56:00Z","v":56.56},
      {"series":"F7760 Analysis","seg":2,"t":"2024-04-19T10:34:00Z","v":56.56},
      {"series":"F7760 Analysis","seg":2,"t":"2024-04-19T11:11:00Z","v":56.1},
      {"series":"F7760 Analysis","seg":2,"t":"2024-04-19T11:34:00Z","v":56.9},
      {"series":"F7760 Analysis","seg":2,"t":"2024-04-19T11:56:00Z","v":57.6},
      {"series":"F7760 Analysis","seg":2,"t":"2024-04-19T12:11:00Z","v":57.8},
      {"series":"F7760 Analysis","seg":2,"t":"2024-04-19T12:34:00Z","v":58.4},
      {"series":"F7760 Analysis","seg":2,"t":"2024-04-19T12:49:00Z","v":59.4},
      {"series":"F7760 Analysis","seg":2,"t":"2024-04-19T13:11:00Z","v":60.6},
      {"series":"F7760 Analysis","seg":3,"t":"2024-04-20T00:43:00Z","v":59.69},
      {"series":"F7760 Analysis","seg":3,"t":"2024-04-20T01:08:00Z","v":59.73},
      {"series":"F7760 Analysis","seg":3,"t":"2024-04-20T01:33:00Z","v":59.79},
      {"series":"F7760 Analysis","seg":3,"t":"2024-04-20T01:58:00Z","v":59.83},
      {"series":"F7760 Analysis","seg":3,"t":"2024-04-20T02:30:00Z","v":59.83},
      {"series":"F7760 Analysis","seg":3,"t":"2024-04-20T02:43:00Z","v":59.79},
      {"series":"F7760 Analysis","seg":3,"t":"2024-04-20T03:00:00Z","v":59.33},
      {"series":"F7760 Analysis","seg":3,"t":"2024-04-20T03:20:00Z","v":59.48},
      {"series":"F7760 Analysis","seg":3,"t":"2024-04-20T03:33:00Z","v":59.38},
      {"series":"F7760 Analysis","seg":3,"t":"2024-04-20T03:45:00Z","v":59.58},
      {"series":"F7760 Analysis","seg":3,"t":"2024-04-20T03:58:00Z","v":59.0},
      {"series":"F7760 Analysis","seg":3,"t":"2024-04-20T04:23:00Z","v":58.79},
      {"series":"F7760 Analysis","seg":3,"t":"2024-04-20T04:53:00Z","v":58.54},
      {"series":"F7760 Analysis","seg":3,"t":"2024-04-20T05:18:00Z","v":58.75},
      {"series":"F7760 Analysis","seg":3,"t":"2024-04-20T05:50:00Z","v":59.23},
      {"series":"F7760 Analysis","seg":3,"t":"2024-04-20T06:01:00Z","v":58.17},
      {"series":"F7760 Analysis","seg":3,"t":"2024-04-20T06:16:00Z","v":58.33},
      {"series":"F7760 Analysis","seg":3,"t":"2024-04-20T06:28:00Z","v":58.5},
      {"series":"F7760 Analysis","seg":3,"t":"2024-04-20T06:41:00Z","v":58.65},
      {"series":"F7760 Analysis","seg":3,"t":"2024-04-20T06:51:00Z","v":58.08},
      {"series":"F7760 Analysis","seg":3,"t":"2024-04-20T07:06:00Z","v":57.54},
      {"series":"F7760 Analysis","seg":3,"t":"2024-04-20T07:23:00Z","v":57.75},
      {"series":"F7760 Analysis","seg":3,"t":"2024-04-20T07:41:00Z","v":57.92},
      {"series":"F7760 Analysis","seg":3,"t":"2024-04-20T07:56:00Z","v":57.4},
      {"series":"F7760 Analysis","seg":3,"t":"2024-04-20T08:06:00Z","v":57.13},
      {"series":"F7760 Analysis","seg":3,"t":"2024-04-20T08:26:00Z","v":57.54},
      {"series":"F7760 Analysis","seg":3,"t":"2024-04-20T08:38:00Z","v":57.81},
      {"series":"F7760 Analysis","seg":3,"t":"2024-04-20T08:51:00Z","v":58.02},
      {"series":"F7760 Analysis","seg":3,"t":"2024-04-20T08:58:00Z","v":57.4},
      {"series":"F7760 Analysis","seg":3,"t":"2024-04-20T09:11:00Z","v":57.71},
      {"series":"F7760 Analysis","seg":3,"t":"2024-04-20T09:28:00Z","v":57.4},
      {"series":"F7760 Analysis","seg":3,"t":"2024-04-20T09:46:00Z","v":57.5},
      {"series":"F7760 Analysis","seg":3,"t":"2024-04-20T10:06:00Z","v":57.6},
      {"series":"F7760 Analysis","seg":3,"t":"2024-04-20T10:31:00Z","v":57.64},
      {"series":"F7760 Analysis","seg":3,"t":"2024-04-20T10:56:00Z","v":57.6},
      {"series":"F7760 Analysis","seg":3,"t":"2024-04-20T11:04:00Z","v":57.25},
      {"series":"F7760 Analysis","seg":3,"t":"2024-04-20T11:16:00Z","v":57.92},
      {"series":"F7760 Analysis","seg":3,"t":"2024-04-20T11:34:00Z","v":58.54},
      {"series":"F7760 Analysis","seg":3,"t":"2024-04-20T11:51:00Z","v":58.85},
      {"series":"F7760 Analysis","seg":3,"t":"2024-04-20T12:06:00Z","v":59.27},
      {"series":"F7760 Analysis","seg":3,"t":"2024-04-20T12:23:00Z","v":59.69},
      {"series":"F7760 Analysis","seg":3,"t":"2024-04-20T12:36:00Z","v":59.9},
      {"series":"F7760 Analysis","seg":3,"t":"2024-04-20T13:01:00Z","v":60.73}
    ],
    "sun": [
      {"t":"2024-04-18T10:56:00Z","event":"Sunrise"},
      {"t":"2024-04-18T23:55:00Z","event":"Sunset"},
      {"t":"2024-04-19T10:56:00Z","event":"Sunrise"},
      {"t":"2024-04-19T23:50:00Z","event":"Sunset"},
      {"t":"2024-04-20T11:01:00Z","event":"Sunrise"},
      {"t":"2024-04-20T23:45:00Z","event":"Sunset"}
    ]
  },
  "layer": [
    {
      "data": {"name": "obs"},
      "mark": {"type": "line", "strokeWidth": 1},
      "encoding": {
        "x": {"field": "t", "type": "temporal",
              "scale": {"type": "utc", "domain": [1713398400000, 1713657600000], "nice": false},
              "axis": {"orient": "bottom", "title": null, "tickCount": 12, "labelExpr": "split(utcFormat(datum.value, '%m/%d %H:%M'), ' ')", "labelOverlap": false, "labelFlush": false, "labelLineHeight": 15, "labelBaseline": "top", "tickSize": 4, "offset": -4, "labelPadding": 7}},
        "y": {"field": "v", "type": "quantitative",
              "scale": {"domain": [50, 75], "nice": false, "zero": false},
              "axis": {"orient": "left", "title": "degrees F", "values": [50, 55, 60, 65, 70, 75], "tickSize": 4, "offset": -4, "labelPadding": 7, "titlePadding": 11}},
        "color": {"field": "series", "type": "nominal",
                  "scale": {"domain": ["F7760 Analysis", "F7760"], "range": ["#ff0000", "#1e8cff"]},
                  "legend": {"title": null, "orient": "none", "legendX": 458, "legendY": 1, "symbolType": "stroke", "symbolSize": 256, "symbolStrokeWidth": 1, "labelFont": "DejaVu Sans Mono", "labelFontSize": 10, "labelColor": "black", "padding": 0, "rowPadding": 0, "labelLimit": 200}},
        "detail": {"field": "seg", "type": "nominal"}
      }
    },
    {
      "data": {"name": "sun"},
      "mark": {"type": "rule", "color": "black", "strokeWidth": 1},
      "encoding": {
        "x": {"field": "t", "type": "temporal"},
        "y": {"datum": 71.35, "type": "quantitative"},
        "y2": {"datum": 50}
      }
    },
    {
      "data": {"name": "sun"},
      "mark": {"type": "text", "angle": 270, "align": "left", "baseline": "middle", "font": "DejaVu Sans Mono", "fontSize": 10, "color": "black"},
      "encoding": {
        "x": {"field": "t", "type": "temporal"},
        "y": {"datum": 71.75, "type": "quantitative"},
        "text": {"field": "event"}
      }
    }
  ]
}
